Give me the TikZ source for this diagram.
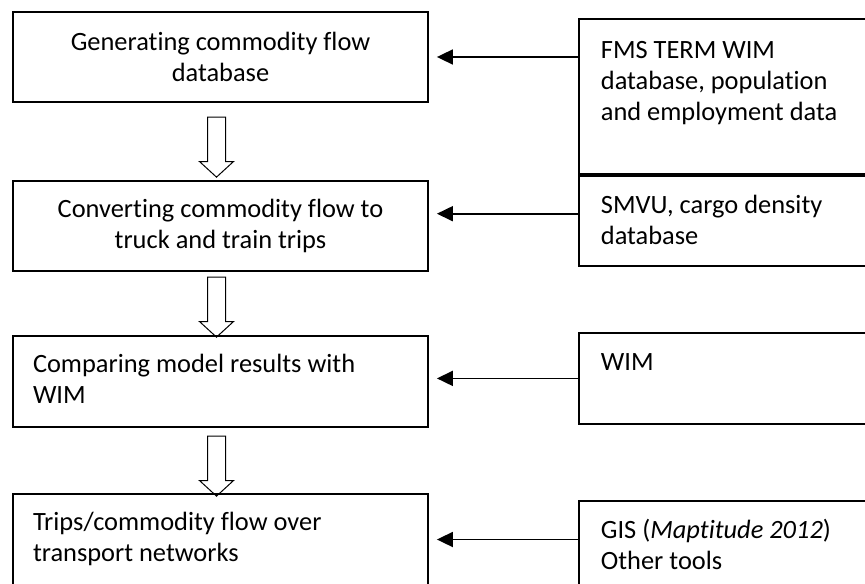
\documentclass[tikz,border=0pt]{standalone}
\usepackage{fontspec}
\setmainfont{Carlito}[Ligatures={NoCommon,NoRare}]
\usetikzlibrary{arrows.meta,shapes.arrows,positioning}

\newcommand{\topfill}[3]{\parbox[c][#1][t]{#2}{\raggedright #3}}

\tikzset{
	stage/.style={draw, line width=0.9pt, minimum width=207.5pt, minimum height=45pt, align=center, inner sep=0pt},
	source/.style={draw, line width=0.9pt, inner xsep=11pt, anchor=north west},
	feed/.style={line width=0.9pt, -{Triangle[length=8pt,width=7.5pt]}, shorten >=4pt},
	flow/.style={single arrow, draw, line width=0.5pt, minimum height=30pt, inner sep=4.25pt,
		single arrow head extend=4pt, single arrow tip angle=95, shape border rotate=270}
}

\begin{document}
\begin{tikzpicture}[x=0.5pt, y=-0.5pt, font=\fontsize{13.2}{15.5}\selectfont]
	\useasboundingbox (0,0) rectangle (865,583);
	\clip (0,0) rectangle (865,583);
	
	%%%%% steps %%%%%
	\node[stage] (gen) at (220.5,57) {Generating commodity flow\\database};
	\node[stage] (conv) at (220.5,226) {Converting commodity flow to\\truck and train trips};
	\node[stage, inner xsep=10pt, inner ysep=9pt] (comp) at (220.5,381.5)
		{\topfill{27.5pt}{187.5pt}{Comparing model results with\\WIM}};
	\node[stage, inner xsep=10pt, inner ysep=9pt] (trips) at (220.5,539.5)
		{\topfill{27.5pt}{187.5pt}{Trips/commodity flow over\\transport networks}};
	
	\node[flow] (f1) at (216.5,143) {};
	\node[flow] (f2) at (216.5,303) {};
	\node[flow] (f3) at (216.5,462) {};
	
	%%%%% inputs %%%%%
	\node[source, inner ysep=11pt] (fms) at (578,18)
		{\topfill{55.5pt}{134pt}{FMS TERM WIM\\database, population\\and employment data}};
	\node[source, inner ysep=9.5pt, below=0pt of fms] (smvu)
		{\topfill{26pt}{134pt}{SMVU, cargo density\\database}};
	\node[source, inner ysep=10.5pt] (wim) at (578,332)
		{\topfill{24.5pt}{134pt}{WIM}};
	\node[source, inner ysep=9pt] (gis) at (578,500)
		{\topfill{27.5pt}{134pt}{GIS (\textit{Maptitude 2012})\\Other tools}};
	
	\coordinate (smvuin) at ([yshift=3.5pt]smvu.west);
	\draw[feed] (fms.west |- gen.east) -- (gen.east);
	\draw[feed] (smvuin) -- (smvuin -| conv.east);
	\draw[feed] (wim.west) -- (wim.west -| comp.east);
	\draw[feed] (gis.west |- trips.east) -- (trips.east);
\end{tikzpicture}
\end{document}
